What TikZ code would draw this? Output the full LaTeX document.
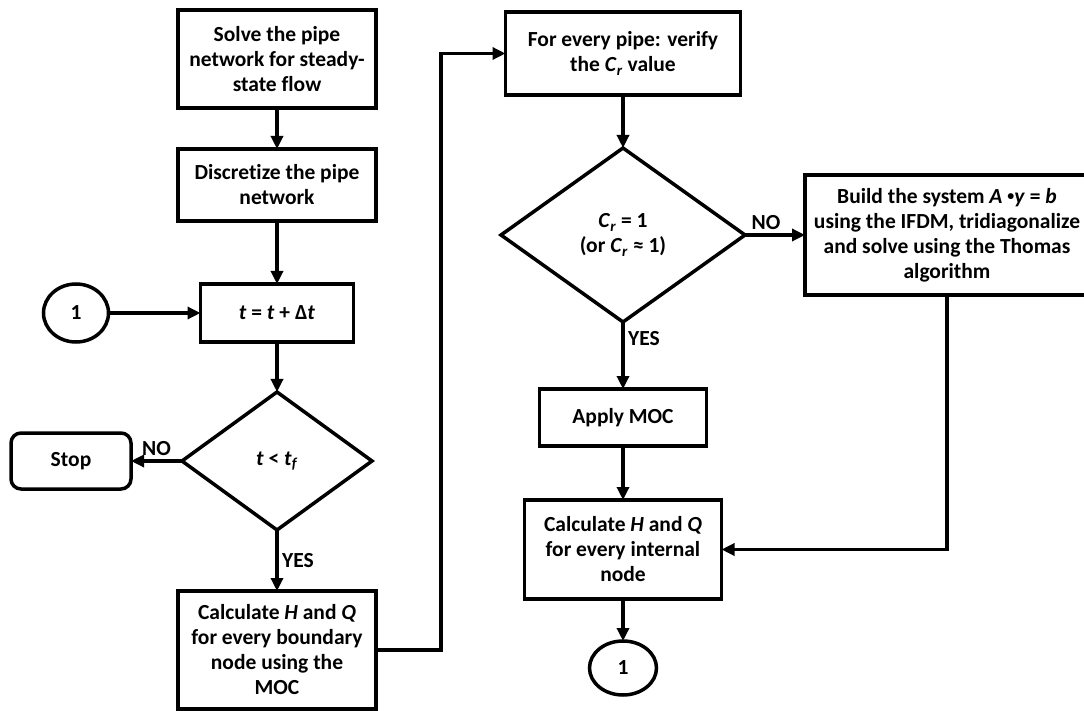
\documentclass[tikz,border=0pt]{standalone}
\usepackage{fontspec}
\setmainfont{Carlito}[Ligatures=NoCommon]
\usepackage{tikz}
\usetikzlibrary{arrows.meta,positioning,shapes.geometric}

\begin{document}
\begin{tikzpicture}[-,>={Triangle[length=13pt,width=12pt]},x=1pt,y=-1pt,line width=3.5pt,
  font=\bfseries\fontsize{21.5}{25}\selectfont,
  process node/.style={rectangle,draw,align=center,outer sep=0pt,inner sep=2pt},
  decision node/.style={diamond,draw,align=center,outer sep=0pt,inner sep=0pt},
  stop node/.style={rectangle,rounded corners=10pt,draw,align=center,outer sep=0pt},
  link node/.style={ellipse,draw,outer sep=0pt,inner sep=0pt}]
  \useasboundingbox (0,0) rectangle (1084,711);

  % left column
  \node[process node,minimum width=198pt,minimum height=98pt] (solve) at (277,59)
    {Solve the pipe\\network for steady-\\state flow};
  \node[process node,minimum width=198pt,minimum height=72pt] (discretize) [below=41pt of solve]
    {Discretize the pipe\\network};
  \node[process node,minimum width=153pt,minimum height=58pt] (step) [below=63pt of discretize]
    {\textit{t} = \textit{t} + Δ\textit{t}};
  \node[decision node,minimum width=190pt,minimum height=138pt] (checktf) [below=50pt of step]
    {\textit{t} < \textit{t}\textsubscript{\textit{f}}};
  \node[stop node,minimum width=120pt,minimum height=56pt] (stop) [left=51pt of checktf] {Stop};
  \node[link node,minimum width=65pt,minimum height=58pt] (loopin) [left=92pt of step] {1};
  \node[process node,minimum width=198pt,minimum height=118pt] (boundary) [below=61pt of checktf]
    {Calculate \textit{H} and \textit{Q}\\for every boundary\\node using the\\MOC};

  % right column
  \node[process node,minimum width=235pt,minimum height=83pt] (pipe) at (623,53.5)
    {For every pipe: verify\\the \textit{C}\textsubscript{\textit{r}} value};
  \node[decision node,minimum width=244pt,minimum height=174pt] (crcheck) [below=53pt of pipe]
    {\textit{C}\textsubscript{\textit{r}} = 1\\(or \textit{C}\textsubscript{\textit{r}} ≈ 1)};
  \node[process node,minimum width=284pt,minimum height=120pt] (build) [right=60pt of crcheck]
    {Build the system \textit{A} \raisebox{0.12em}{\scalebox{0.65}{•}}\textit{y} = \textit{b}\\using the IFDM, tridiagonalize\\and solve using the Thomas\\algorithm};
  \node[process node,minimum width=167pt,minimum height=57pt] (applymoc) [below=67pt of crcheck]
    {Apply MOC};
  \node[process node,minimum width=197pt,minimum height=99pt] (internal) [below=54pt of applymoc]
    {Calculate \textit{H} and \textit{Q}\\for every internal\\node};
  \node[link node,minimum width=67pt,minimum height=54pt] (loopout) [below=42pt of internal] {1};

  \coordinate (turn) at (441,650);

  \path[->]
    (solve) edge (discretize)
    (discretize) edge (step)
    (loopin) edge (step)
    (step) edge (checktf)
    (checktf) edge node[above] {NO} (stop)
    (checktf) edge node[right] {YES} (boundary)
    (pipe) edge (crcheck)
    (crcheck) edge node[above,pos=0.35] {NO} (build)
    (crcheck) edge node[right,pos=0.25] {YES} (applymoc)
    (applymoc) edge (internal)
    (internal) edge (loopout);
  \draw[->] (boundary) -- (turn) |- (pipe);
  \draw[->] (build) |- (internal);
\end{tikzpicture}
\end{document}
